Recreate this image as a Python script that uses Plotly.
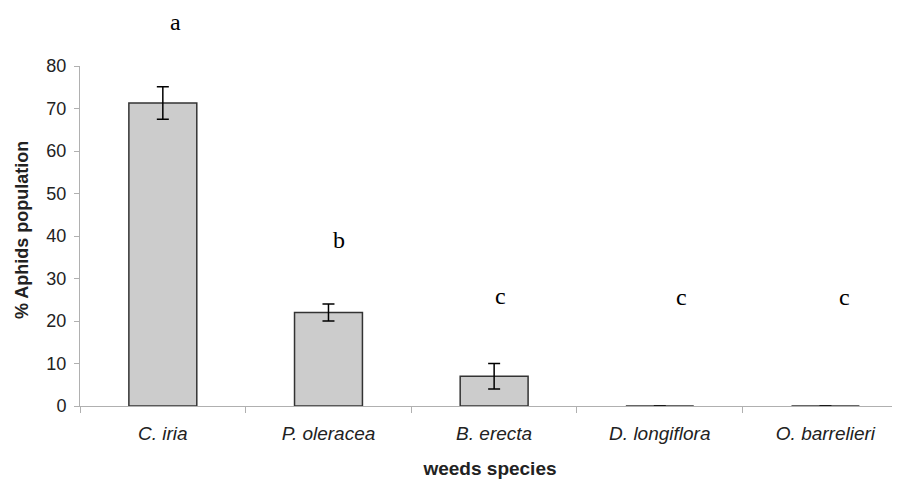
import plotly.graph_objects as go

species = ["C. iria", "P. oleracea", "B. erecta", "D. longiflora", "O. barrelieri"]
values = [71.3, 22.0, 7.0, 0.0, 0.0]
errors = [3.8, 2.0, 3.0, 0.0, 0.0]
letters = ["a", "b", "c", "c", "c"]
letter_y = [91.0, 39.0, 26.0, 25.7, 25.7]

Y_MAX = 80
LETTER_DX = [13, 11, 6, 22, 19]  # horizontal nudge of the significance letters (px)

fig = go.Figure()
fig.add_trace(go.Bar(
    x=species, y=values,
    marker=dict(color="#cccccc", line=dict(color="#333333", width=1.5)),
    width=0.41,
    error_y=dict(type="data", array=errors, visible=True, color="black", thickness=1.5, width=6),
    cliponaxis=False,
))
for s, l, yy, dx in zip(species, letters, letter_y, LETTER_DX):
    fig.add_annotation(x=s, y=min(yy / Y_MAX, 1.128), yref="y domain", text=l, showarrow=False,
                       xshift=dx, borderpad=0,
                       font=dict(family="Liberation Serif", size=24, color="black"),
                       yanchor="middle")

fig.add_annotation(x=0, xref="paper", y=0.5, yref="paper", xshift=-58, yshift=6,
                   xanchor="center", yanchor="middle",
                   text="<b>% Aphids population</b>", textangle=-90, showarrow=False,
                   font=dict(family="Liberation Sans", size=18, color="#222222"))

fig.update_layout(
    width=892, height=473,
    margin=dict(l=72, r=0, t=58, b=75),
    paper_bgcolor="white", plot_bgcolor="white",
    showlegend=False,
    xaxis=dict(
        range=[-0.5, 4.45], automargin=False,
        showline=True, linecolor="#b0b0b0", linewidth=1,
        ticks="outside", tickson="boundaries", tickcolor="#b0b0b0", ticklen=6,
        ticklabelstandoff=10,
        tickfont=dict(family="Liberation Sans", size=19, color="#222222", style="italic"),
        title=dict(text="<b>weeds species</b>", font=dict(family="Liberation Sans", size=19, color="#222222"), standoff=18),
    ),
    yaxis=dict(
        range=[0, Y_MAX], dtick=10, automargin=False,
        showgrid=False, zeroline=False,
        showline=True, linecolor="#b0b0b0", linewidth=1,
        ticks="outside", tickcolor="#b0b0b0", ticklen=5,
        ticklabelstandoff=4,
        tickfont=dict(family="Liberation Sans", size=18, color="#222222"),
    ),
)
fig.write_html("out.html")
